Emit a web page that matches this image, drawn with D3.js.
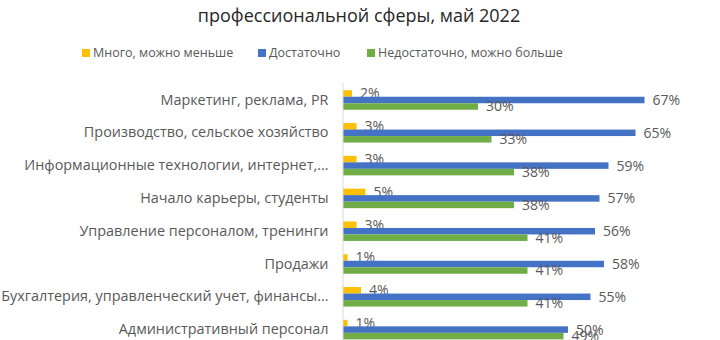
<!DOCTYPE html>
<html><head><meta charset="utf-8">
<script src="https://cdn.jsdelivr.net/npm/d3@7"></script>
<style>
body{margin:0;background:#fff;}
text{font-family:"Open Sans",sans-serif;}
</style></head>
<body><svg id="c" width="720" height="340"></svg>
<script>
const categories = [
  "Маркетинг, реклама, PR",
  "Производство, сельское хозяйство",
  "Информационные технологии, интернет,...",
  "Начало карьеры, студенты",
  "Управление персоналом, тренинги",
  "Продажи",
  "Бухгалтерия, управленческий учет, финансы...",
  "Административный персонал"
];
const seriesNames = ["Много, можно меньше", "Достаточно", "Недостаточно, можно больше"];
const seriesColors = ["#FFC000", "#4472C4", "#70AD47"];
const many   = [2, 3, 3, 5, 3, 1, 4, 1];
const enough = [67, 65, 59, 57, 56, 58, 55, 50];
const notEnough = [30, 33, 38, 38, 41, 41, 41, 49];
const values = [many, enough, notEnough];
const titleLine = "профессиональной сферы, май 2022";

const FONT = "\"Open Sans\",sans-serif";
const svg = d3.select("#c");
const x = d3.scaleLinear().domain([0, 70]).range([343, 658]);
const y = d3.scaleBand().domain(categories).range([83.6, 346]).paddingInner(0.405).paddingOuter(0.2025);
const ys = d3.scaleBand().domain(seriesNames).range([0, y.bandwidth()]);

svg.append("text").attr("x", 359).attr("y", 22).attr("text-anchor", "middle")
  .attr("font-size", 18).attr("fill", "#262626").text(titleLine);

// legend
const legX = [82, 258, 367];
seriesNames.forEach((s, i) => {
  svg.append("rect").attr("x", legX[i]).attr("y", 49).attr("width", 8).attr("height", 8).attr("fill", seriesColors[i]);
  svg.append("text").attr("x", legX[i] + 11).attr("y", 53).attr("dy", "0.35em")
    .attr("font-size", 12.5).attr("fill", "#595959").text(s);
});

// bars
seriesNames.forEach((s, si) => {
  const g = svg.append("g");
  g.selectAll("rect").data(categories).join("rect")
    .attr("x", x(0))
    .attr("y", c => y(c) + ys(s))
    .attr("width", (c, i) => x(values[si][i]) - x(0))
    .attr("height", ys.bandwidth())
    .attr("fill", seriesColors[si]);
  g.selectAll("text").data(categories).join("text")
    .attr("x", (c, i) => x(values[si][i]) + 8)
    .attr("y", c => y(c) + ys(s) + ys.bandwidth() / 2)
    .attr("dy", "0.35em")
    .attr("font-size", 14).attr("fill", "#595959")
    .text((c, i) => values[si][i] + "%");
});

// axis
const yAxis = d3.axisLeft(y).tickSize(0).tickPadding(14);
const ag = svg.append("g").attr("transform", `translate(${x(0) - 0.5},0)`).call(yAxis);
ag.select(".domain").attr("stroke", "#d9d9d9").attr("d", "M0.5,83V340");
ag.selectAll(".tick").attr("transform", c => `translate(0,${y(c) + ys("Достаточно") + ys.bandwidth()/2})`);
ag.selectAll(".tick text").attr("font-size", 14.4).attr("fill", "#595959")
  .attr("font-family", FONT);
</script></body></html>
